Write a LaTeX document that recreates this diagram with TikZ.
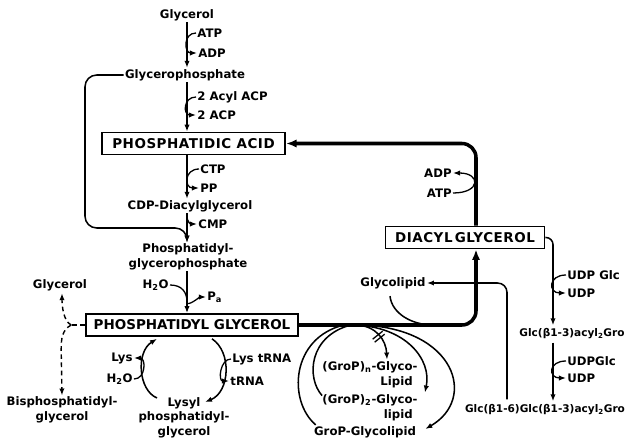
\documentclass[tikz,border=0pt]{standalone}
\usepackage{fontspec}
\setmainfont{DejaVu Sans}
\usetikzlibrary{arrows.meta,calc}
\newcommand\labfont{\bfseries\fontsize{10}{12.5}\selectfont}
\newcommand\smallfont{\bfseries\fontsize{9}{11}\selectfont}
\newcommand\boxfont{\bfseries\fontsize{11.5}{13}\selectfont}

\begin{document}
\begin{tikzpicture}[x=0.03cm,y=-0.03cm,>={Latex[length=6pt,width=4.5pt]},
  lab/.style={font=\labfont,inner sep=1pt},
  slab/.style={font=\smallfont,inner sep=1pt},
  box/.style={draw,line width=1.4pt,font=\boxfont,minimum height=0.66cm,inner sep=2pt},
  flow/.style={line width=1.3pt},
  side/.style={line width=1.1pt,->},
  heavy/.style={line width=3pt,-{Latex[length=9pt,width=7pt]}},
  dashflow/.style={line width=1.2pt,dash pattern=on 4pt off 3pt}]
  \useasboundingbox (0,0) rectangle (630,443);

  \node[lab] (gly) at (187,15) {Glycerol};
  \node[lab,anchor=west] (atpa) at (196,33) {ATP};
  \node[lab,anchor=west] (adpa) at (197,53) {ADP};
  \node[lab] (gp) at (185,75) {Glycerophosphate};
  \node[lab,anchor=west] (acyl) at (196,97) {2 Acyl ACP};
  \node[lab,anchor=west] (acp) at (196,115) {2 ACP};
  \node[box,minimum width=5.5cm,font=\boxfont\addfontfeatures{LetterSpace=4}] (pa) at (193.5,143.5) {PHOSPHATIDIC ACID};
  \node[lab,anchor=west] (ctp) at (199,169) {CTP};
  \node[lab,anchor=west] (pp) at (199,188) {PP};
  \node[lab] (cdp) at (190,206) {CDP-Diacylglycerol};
  \node[lab,anchor=west] (cmp) at (197,224) {CMP};
  \node[lab,align=center] (pgp) at (188,257) {Phosphatidyl-\\glycerophosphate};
  \node[lab,anchor=east] (h2oa) at (170,285) {H\textsubscript{2}O};
  \node[lab,anchor=west] (pia) at (206,297) {P\textsubscript{a}};
  \node[box,minimum width=6.36cm] (pg) at (192,325) {PHOSPHATIDYL GLYCEROL};

  \node[lab] (glyb) at (60,285) {Glycerol};
  \node[lab,align=center] (bpg) at (62,410) {Bisphosphatidyl-\\glycerol};
  \node[lab,anchor=east] (lys) at (134,358) {Lys};
  \node[lab,anchor=east] (h2ob) at (134,379) {H\textsubscript{2}O};
  \node[lab,anchor=west] (lystrna) at (231,359) {Lys tRNA};
  \node[lab,anchor=west] (trna) at (229,381) {tRNA};
  \node[lab,align=center,anchor=north] (lpg) at (184,396) {Lysyl\\phosphatidyl-\\glycerol};

  \node[box,minimum width=4.77cm,font=\boxfont\addfontfeatures{LetterSpace=4}] (dag) at (465,237.5) {DIACYL\,GLYCEROL};
  \node[lab,anchor=east] (adpb) at (453,173) {ADP};
  \node[lab,anchor=east] (atpb) at (453,193) {ATP};
  \node[lab,anchor=west] (udpga) at (566,275) {UDP Glc};
  \node[lab,anchor=west] (udpa) at (566,293) {UDP};
  \node[slab] (gca) at (572,334) {Glc(β1-3)acyl\textsubscript{2}Gro};
  \node[lab,anchor=west] (udpgb) at (566,361) {UDPGlc};
  \node[lab,anchor=west] (udpb) at (566,378) {UDP};
  \node[slab] (gcb) at (545,410) {Glc(β1-6)Glc(β1-3)acyl\textsubscript{2}Gro};

  \node[lab] (glp) at (393,283) {Glycolipid};
  \node[lab,align=right] (gpn) at (370,375) {(GroP)\textsubscript{n}-Glyco-\\Lipid\phantom{-}};
  \node[lab,align=right] (gpt) at (370,408) {(GroP)\textsubscript{2}-Glyco-\\lipid\phantom{-}};
  \node[lab] (gpo) at (365,432) {GroP-Glycolipid};

  \draw[flow,->] (gly.south) -- (gp.north -| gly);
  \draw[side] (atpa.west) .. controls +(-13,0) and +(-13,0) .. (adpa.west);
  \draw[flow,->] (gp.south -| gly) -- (pa.north -| gly);
  \draw[side] (acyl.west) .. controls +(-13,0) and +(-13,0) .. (acp.west);
  \draw[flow,->] (pa.south -| gly) -- (cdp.north -| gly);
  \draw[side] (ctp.west) .. controls +(-15,0) and +(-15,0) .. (pp.west);
  \draw[flow,->] (cdp.south -| gly) -- (pgp.north -| gly);
  \draw[side] ($(cdp.south -| gly)+(0,2)$) .. controls +(0,8) and +(-6,0) .. (cmp.west);
  \draw[flow,->,rounded corners=10] (gp.west) -| (85,228) -| (pgp.north -| gly);
  \draw[flow,->] (pgp.south -| gly) -- (pg.north -| gly);
  \draw[side] (h2oa.east) .. controls +(12,0) and +(0,-10) .. ($(pg.north -| gly)+(0,-11)$)
    .. controls +(0,5) and +(-6,0) .. (pia.west);

  \coordinate (jn) at ($(pg.west)+(-14,0)$);
  \draw[dashflow] (pg.west) -- (jn);
  \draw[dashflow,->] (jn) .. controls +(-8,-4) and +(0,12) .. ($(glyb.south)+(2,1)$);
  \draw[dashflow,->] (jn) .. controls +(-9,5) and +(0,-12) .. ($(jn)+(-10,25)$) -- (bpg.north -| 62,0);

  \draw[flow,->] ($(lpg.north)+(-27,2)$) .. controls +(-19,-8) and +(-21,13) .. ($(pg.south)+(-35,2)$);
  \draw[flow,->] ($(pg.south)+(20,2)$) .. controls +(20,13) and +(25,-10) .. ($(lpg.north)+(21,6)$);
  \draw[side] (h2ob.east) .. controls +(12,0) and +(12,0) .. (lys.east);
  \draw[side] (lystrna.west) .. controls +(-11,0) and +(-11,0) .. (trna.west);

  \draw[heavy,rounded corners=12] ($(dag.north)+(11,0)$) |- (pa.east);
  \draw[side] (atpb.east) .. controls +(28,0) and +(28,0) .. (adpb.east);
  \draw[heavy,rounded corners=12] (pg.east) -| ($(dag.south)+(11,0)$);
  \draw[flow,->,rounded corners=6] (dag.east) -| ($(gca.north)+(-19,-2)$);
  \draw[side] (udpga.west) .. controls +(-18,0) and +(-18,0) .. (udpa.west);
  \draw[flow,->] ($(gca.south)+(-19,2)$) -- ($(gcb.north)+(8,-2)$);
  \draw[side] (udpgb.west) .. controls +(-18,0) and +(-18,0) .. (udpb.west);
  \draw[flow,->,rounded corners=8] ($(gcb.north)+(-38,-4)$) |- (glp.east);

  \draw[flow] ($(glp.south)+(-3,6)$) .. controls +(2,18) and +(-20,0) .. ($(pg.east)+(134,0)$);
  \draw[flow] ($(gpo.north west)+(3,0)$) .. controls +(-28,-24) and +(-53,13) .. ($(pg.east)+(45,0)$);
  \draw[flow] ($(gpt.north west)+(1,2)$) .. controls +(-16,-18) and +(-42,11) .. ($(pg.east)+(52,0)$);
  \draw[flow,->] ($(pg.east)+(58,0)$) .. controls +(19,1) and +(-1,-20) .. ($(gpn.north)+(17,-1)$)
    coordinate[pos=0.5] (hs);
  \draw[line width=1.1pt] ($(hs)+(-6,4)$) -- ($(hs)+(4,-4)$);
  \draw[line width=1.1pt] ($(hs)+(-4,7)$) -- ($(hs)+(6,-1)$);
  \draw[flow,->] ($(pg.east)+(54,0)$) .. controls +(53,1) and +(7,-33) .. ($(gpt.north east)+(6,-1)$);
  \draw[flow,->] ($(pg.east)+(62,0)$) .. controls +(95,3) and +(52,-30) .. ($(gpo.east)+(8,-3)$);
\end{tikzpicture}
\end{document}
